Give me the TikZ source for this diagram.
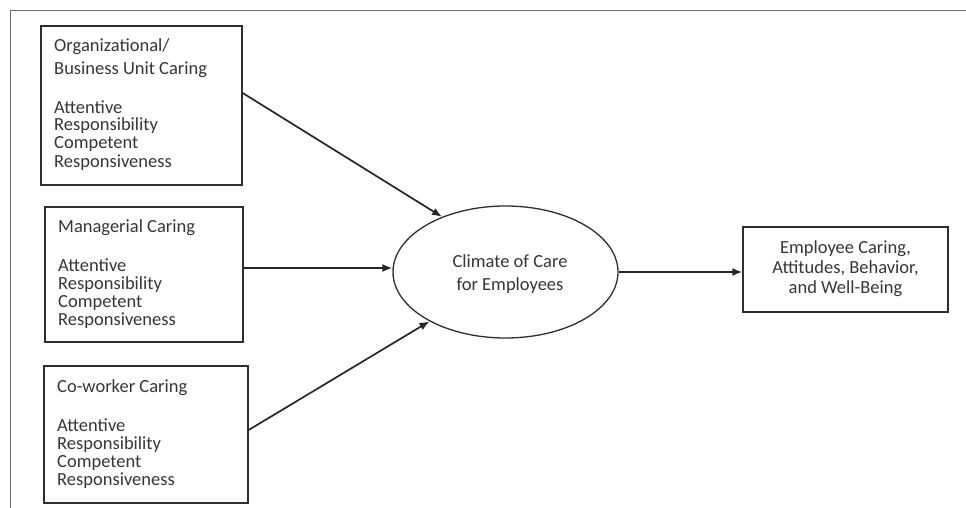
\documentclass[tikz,border=0pt]{standalone}
\usepackage{fontspec}
\setmainfont{Carlito}
\usetikzlibrary{shapes.geometric,arrows.meta}
\definecolor{inkline}{HTML}{2E2E2E}
\definecolor{inktext}{HTML}{363636}
\definecolor{framegray}{HTML}{6E6E6E}
\tikzset{
  box/.style={draw=inkline, line width=1.3pt, inner sep=0pt, rectangle},
  oval/.style={draw=inkline, line width=1.3pt, inner sep=0pt, ellipse},
  txt/.style={text=inktext, inner sep=0pt, font=\fontsize{18.5}{18}\selectfont, align=left},
  head/.style={txt, font=\fontsize{18.5}{23}\selectfont},
  link/.style={draw=black!85, line width=1.7pt, -{Latex[length=10pt,width=8pt]}},
  frameline/.style={draw=framegray, line width=1.8pt}
}
\begin{document}
\begin{tikzpicture}[x=1pt, y=-1pt]
  \useasboundingbox (0,0) rectangle (966,508);
  % partial frame (top and left edges)
  \coordinate (fl) at (10.5,508);
  \coordinate (fc) at (10.5,10.5);
  \coordinate (fr) at (966,10.5);
  \draw[frameline] (fl) -- (fc) -- (fr);

  % three sources of caring
  \node[box, minimum width=201pt, minimum height=159pt] (b1) at (141.5,105.5) {};
  \node[box, minimum width=198pt, minimum height=135pt] (b2) at (144,274.5) {};
  \node[box, minimum width=204pt, minimum height=137pt] (b3) at (146,434.5) {};

  % text blocks are placed by the baseline of their last line
  \node[head, anchor=base west] (h1) at (54,75) {Organizational/\\Business Unit Caring};
  \node[txt, anchor=base west] (l1) at (54,167) {Attentive\\Responsibility\\Competent\\Responsiveness};

  \node[txt, anchor=base west] (h2) at (58,232) {Managerial Caring};
  \node[txt, anchor=base west] (l2) at (58,325) {Attentive\\Responsibility\\Competent\\Responsiveness};

  \node[txt, anchor=base west] (h3) at (57,392) {Co-worker Caring};
  \node[txt, anchor=base west] (l3) at (57,485) {Attentive\\Responsibility\\Competent\\Responsiveness};

  % climate of care
  \node[oval, minimum width=225pt, minimum height=132pt] (cc) at (505.5,272) {};
  \node[head, align=center, anchor=base] (cct) at (510,290) {Climate of Care\\for Employees};

  % outcome
  \node[box, minimum width=205pt, minimum height=85pt] (out) at (845.5,269.5) {};
  \node[txt, align=center, anchor=base, font=\fontsize{18.5}{20}\selectfont] (outt) at (845.5,293)
    {Employee Caring,\\Attitudes, Behavior,\\and Well-Being};

  % arrow start points on the source boxes
  \coordinate (s1) at ([yshift=12.5pt]b1.east);
  \coordinate (s2) at ([yshift=6.5pt]b2.east);
  \coordinate (s3) at ([yshift=4.5pt]b3.east);

  % connectors
  \draw[link] (s1) -- (cc.139);
  \draw[link] (s2) -- (cc.west |- s2);
  \draw[link] (s3) -- (cc.213);
  \draw[link] (cc.east) -- (out.west |- cc.east);
\end{tikzpicture}
\end{document}
